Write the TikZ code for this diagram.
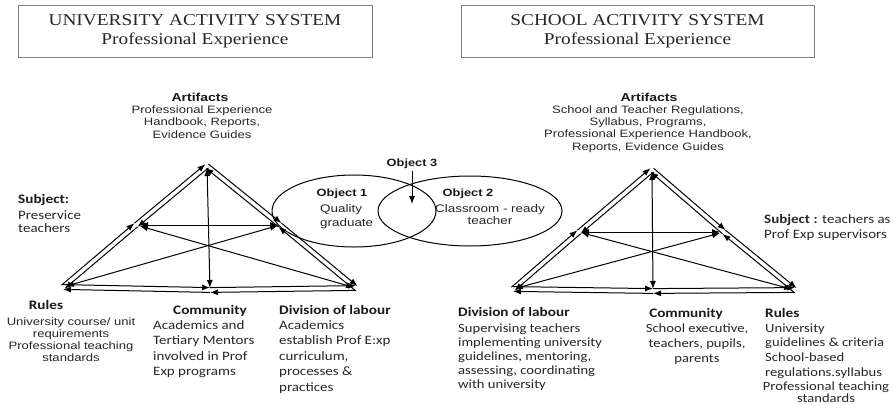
\documentclass[tikz,border=0pt]{standalone}
\usepackage{fontspec}
\setmainfont[FakeStretch=1.17]{Liberation Serif}
\newfontfamily\arialfont[FakeStretch=1.22]{Liberation Sans}
\newfontfamily\calfont[FakeStretch=1.17]{Carlito}
\usetikzlibrary{calc,arrows.meta,shapes.geometric}

% two parallel arrows, one each way
\newcommand\twoway[2]{%
  \draw[link] ($(#1)!2.4pt!90:(#2)$) -- ($(#2)!2.4pt!-90:(#1)$);
  \draw[link] ($(#2)!2.4pt!90:(#1)$) -- ($(#1)!2.4pt!-90:(#2)$);}

\tikzset{
  link/.style={-{Latex[length=8pt,width=6pt]}, line width=1pt},
  bothway/.style={{Latex[length=8pt,width=6pt]}-{Latex[length=8pt,width=6pt]}, line width=1pt},
  titlebox/.style={draw=black!50, line width=0.7pt, minimum width=354pt, minimum height=52pt,
    align=center, inner sep=0pt, text=black!85, font=\fontsize{16.5}{19}\selectfont},
  arthead/.style={inner sep=0pt, text=black!90, font=\arialfont\bfseries\fontsize{11.5}{13}\selectfont},
  artbody/.style={inner sep=0pt, align=center, text=black!85, font=\arialfont\fontsize{10.7}{12.5}\selectfont},
  calhead/.style={inner sep=0pt, text=black!90, font=\calfont\bfseries\fontsize{13}{15}\selectfont},
  calbody/.style={inner sep=0pt, align=left, text=black!85, font=\calfont\fontsize{12.8}{15.5}\selectfont},
  objring/.style={draw, ellipse, line width=1pt, inner sep=0pt}
}

\begin{document}
\begin{tikzpicture}[x=1pt,y=-1pt]
\useasboundingbox (0,0) rectangle (893,404);

% headings
\node[titlebox] (uTitle) at (195,31) {UNIVERSITY ACTIVITY SYSTEM\\Professional Experience};
\node[titlebox, minimum width=353pt] (sTitle) at (637.5,31) {SCHOOL ACTIVITY SYSTEM\\Professional Experience};

% objects
\node[objring, minimum width=164pt, minimum height=72pt] (obj1) at (354,211) {};
\node[objring, minimum width=184pt, minimum height=70pt] (obj2) at (470,211) {};
\node[arthead, font=\arialfont\bfseries\fontsize{10.5}{12}\selectfont, anchor=base] (obj3) at (412,166) {Object 3};
\coordinate (obj3tip) at (412,204);
\draw[link] (obj3.south) ++(0,3) -- (obj3tip);
\node[arthead, font=\arialfont\bfseries\fontsize{10.5}{12}\selectfont, anchor=base] (obj1head) at (342,196) {Object 1};
\node[artbody, align=left, font=\arialfont\fontsize{11}{14}\selectfont, anchor=base west] (obj1text) at (320,226) {Quality\\graduate};
\node[arthead, font=\arialfont\bfseries\fontsize{10.5}{12}\selectfont, anchor=base] (obj2head) at (468,196) {Object 2};
\node[artbody, font=\arialfont\fontsize{11}{12}\selectfont, anchor=base] (obj2text) at (490,224) {Classroom - ready\\teacher};

% corners of the two triangles
\coordinate (uA) at (207,166);
\coordinate (uS) at (136,225);
\coordinate (uO) at (280,225);
\coordinate (uR) at (63,287);
\coordinate (uC) at (210,290);
\coordinate (uD) at (356,288);

\coordinate (sA) at (652,170);
\coordinate (sO) at (579,232);
\coordinate (sS) at (724,232);
\coordinate (sD) at (513,289);
\coordinate (sC) at (653,291);
\coordinate (sR) at (795,290);

\foreach \sys in {u,s}{
  \twoway{\sys A}{\sys S}
  \twoway{\sys A}{\sys O}
  \twoway{\sys S}{\sys R}
  \twoway{\sys O}{\sys D}
  \twoway{\sys R}{\sys C}
  \twoway{\sys C}{\sys D}
  \draw[bothway, shorten <=4pt, shorten >=2pt] (\sys S) -- (\sys O);
  \draw[bothway, shorten <=3pt, shorten >=2pt] (\sys R) -- (\sys O);
  \draw[bothway, shorten <=4pt, shorten >=2pt] (\sys S) -- (\sys D);
  \draw[bothway, shorten <=2pt, shorten >=2pt] (\sys A) -- (\sys C);
}

% university side labels (multi-line nodes sit on their last baseline)
\node[arthead, anchor=base] (uArtHead) at (200,101) {Artifacts};
\node[artbody, anchor=base] (uArt) at (202,138) {Professional Experience\\Handbook, Reports,\\Evidence Guides};
\node[calhead, anchor=base west] (uSubHead) at (18,203) {Subject:};
\node[calbody, anchor=base west, font=\calfont\fontsize{12.8}{13.5}\selectfont] (uSub) at (18,232.5) {Preservice\\teachers};
\node[calhead, anchor=base] (uRulHead) at (46,309) {Rules};
\node[artbody, anchor=base, font=\arialfont\fontsize{10.7}{12}\selectfont] (uRul) at (71,361) {University course/ unit\\requirements\\Professional teaching\\standards};
\node[calhead, anchor=base] (uComHead) at (210,314) {Community};
\node[calbody, anchor=base west] (uCom) at (153,375.5) {Academics and\\Tertiary Mentors\\involved in Prof\\Exp programs};
\node[calhead, anchor=base west] (uDivHead) at (279,314) {Division of labour};
\node[calbody, anchor=base west] (uDiv) at (279,391) {Academics\\establish Prof E:xp\\curriculum,\\processes \&\\practices};

% school side labels
\node[arthead, anchor=base] (sArtHead) at (649,101) {Artifacts};
\node[artbody, anchor=base, font=\arialfont\fontsize{10.7}{12.3}\selectfont] (sArt) at (648,150) {School and Teacher Regulations,\\Syllabus, Programs,\\Professional Experience Handbook,\\Reports, Evidence Guides};
\node[calbody, anchor=base west, font=\calfont\fontsize{12.8}{15}\selectfont] (sSub) at (764,238) {\textbf{Subject :} teachers as\\Prof Exp supervisors};
\node[calhead, anchor=base west] (sDivHead) at (458,316) {Division of labour};
\node[calbody, anchor=base west, font=\calfont\fontsize{12.5}{14}\selectfont] (sDiv) at (458,388) {Supervising teachers\\implementing university\\guidelines, mentoring,\\assessing, coordinating\\with university};
\node[calhead, anchor=base] (sComHead) at (686,317) {Community};
\node[calbody, anchor=base, align=center, font=\calfont\fontsize{12.5}{15}\selectfont] (sCom) at (697,362) {School executive,\\teachers, pupils,\\parents};
\node[calhead, anchor=base west] (sRulHead) at (765,317) {Rules};
\node[calbody, anchor=base west, font=\calfont\fontsize{12.5}{14.8}\selectfont] (sRul) at (765,376.4) {University\\guidelines \& criteria\\School-based\\regulations.syllabus};
\node[calbody, anchor=base, align=center, font=\calfont\fontsize{12.5}{11.5}\selectfont] (sStd) at (826,402) {Professional teaching\\standards};
\end{tikzpicture}
\end{document}
